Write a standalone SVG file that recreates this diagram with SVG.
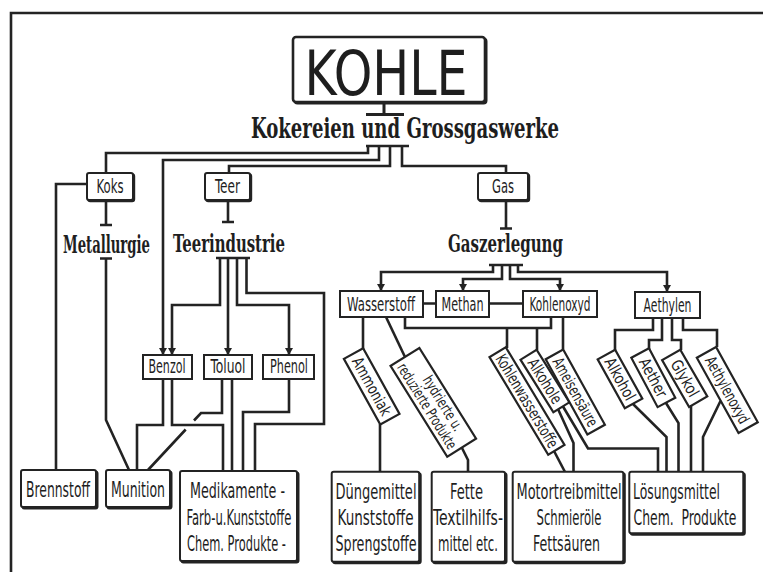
<svg xmlns="http://www.w3.org/2000/svg" width="763" height="572" viewBox="0 0 763 572">
<defs>
<style>
.ln{fill:none;stroke:#232323;stroke-width:2.6;stroke-linejoin:miter;stroke-linecap:butt}
.ar{marker-end:url(#arr)}
.bx{fill:#fff;stroke:#232323;stroke-width:2}
.bs{fill:#232323;stroke:#232323;stroke-width:2}
.rb{fill:#fff;stroke:#232323;stroke-width:2.2}
.t{font-family:"Liberation Sans Narrow","DejaVu Sans Condensed","Liberation Sans",sans-serif;font-stretch:condensed;font-size:19px;fill:#1e1e1e;text-anchor:middle}
.tb{font-size:21px}
.tr{font-size:16px}
.th{font-size:15px}
.fr{font-family:"DejaVu Serif","Liberation Serif",serif;font-weight:bold;font-stretch:condensed;fill:#1e1e1e;text-anchor:middle}
</style>
<marker id="arr" markerUnits="userSpaceOnUse" markerWidth="9" markerHeight="9" refX="7" refY="4" orient="auto"><path d="M0,0 L7,4 L0,8 z" fill="#232323"/></marker>
</defs>
<rect width="763" height="572" fill="#fff"/>
<path class="ln" d="M11,572 V13 H763"/>

<g id="connectors">
<path class="ln" d="M384,102 V114 M366,114.5 H404" style="stroke-width:3"/>
<path class="ln" d="M366,146 H409"/>
<path class="ln" d="M368,146 V153 H106 V173"/>
<path class="ln ar" d="M379,146 V160 H163 V355"/>
<path class="ln" d="M390,146 V166 H229 V173"/>
<path class="ln" d="M402,146 V166 H506 V173"/>
<path class="ln" d="M87,184 H56 V470"/>
<path class="ln" d="M106,200 V225 M100,225 H112"/>
<path class="ln" d="M100,258.5 H112 M106,258 V420 L129,470"/>
<path class="ln" d="M228,200 V222 M222,222 H234"/>
<path class="ln" d="M216,258 H250"/>
<path class="ln ar" d="M220,258 V305 H172 V355"/>
<path class="ln ar" d="M228,258 V355"/>
<path class="ln ar" d="M237,258 V305 H289 V355"/>
<path class="ln" d="M246.5,258 V293 H324 V424 H255 V471"/>
<path class="ln" d="M163,379 V425 H137 V470"/>
<path class="ln" d="M172,379 V425 H223 V471"/>
<path class="ln" d="M222,379 V413 H201 L194,420.5 M185.7,429.5 L148,470"/>
<path class="ln" d="M232,379 V471"/>
<path class="ln" d="M289,379 V412 H243 V471"/>
<path class="ln" d="M506,200 V228 M500,228.5 H512"/>
<path class="ln" d="M489,265 H523"/>
<path class="ln ar" d="M493,265 V272 H381 V291"/>
<path class="ln ar" d="M502,265 V279 H463 V291"/>
<path class="ln ar" d="M510,265 V279 H560 V291"/>
<path class="ln ar" d="M518,265 V272 H667 V292"/>
<path class="ln" d="M423,303.5 H436 M489,303.5 H523"/>
<path class="ln" d="M405,317 V328 H551 V317"/>
<path class="ln" d="M363,317 V349"/>
<path class="ln" d="M386,317 L405,357"/>
<path class="ln" d="M507,328 V348"/>
<path class="ln" d="M537,328 V350"/>
<path class="ln" d="M563,317 V349"/>
<path class="ln" d="M653,318 V330 H615 V350"/>
<path class="ln" d="M662,318 V340 H649 V349"/>
<path class="ln" d="M672,318 V340 H681 V350"/>
<path class="ln" d="M683,318 V330 H717 V347"/>
<path class="ln" d="M380,424 V472"/>
<path class="ln" d="M462,448 L468,460 V472"/>
<path class="ln" d="M554,451 L565,472"/>
<path class="ln" d="M558,409 L573.5,443 V472"/>
<path class="ln" d="M563,406.5 L588,448.5 H658 V472"/>
<path class="ln" d="M633,404 L666.5,437 V472"/>
<path class="ln" d="M666,403 L678.5,423 V472"/>
<path class="ln" d="M691,405 V472"/>
<path class="ln" d="M720.5,401 L703,437 V472"/>
</g>

<g id="kohle">
<rect class="bs" x="294.5" y="38.5" width="192" height="65" rx="3"/>
<rect class="bx" x="293" y="37" width="192" height="65" rx="3" style="stroke-width:2.6"/>
<text class="t" x="386" y="95" style="font-size:62px" textLength="163" lengthAdjust="spacingAndGlyphs">KOHLE</text>
</g>
<g id="kokereien">
<text class="fr" x="405" y="138" style="font-size:28px" textLength="308" lengthAdjust="spacingAndGlyphs">Kokereien und Grossgaswerke</text>
</g>

<g id="koks">
<rect class="bs" x="88.2" y="174.2" width="46" height="27" rx="2"/>
<rect class="bx" x="87" y="173" width="46" height="27" rx="2"/>
<text class="t" x="110" y="193" textLength="27" lengthAdjust="spacingAndGlyphs">Koks</text>
</g>
<g id="teer">
<rect class="bs" x="206.2" y="174.2" width="45" height="27" rx="2"/>
<rect class="bx" x="205" y="173" width="45" height="27" rx="2"/>
<text class="t" x="227.5" y="193" textLength="25" lengthAdjust="spacingAndGlyphs">Teer</text>
</g>
<g id="gas">
<rect class="bs" x="479.2" y="174.2" width="50" height="27" rx="2"/>
<rect class="bx" x="478" y="173" width="50" height="27" rx="2"/>
<text class="t" x="503" y="193" textLength="22" lengthAdjust="spacingAndGlyphs">Gas</text>
</g>

<g id="metallurgie"><text class="fr" x="106.5" y="253" style="font-size:24px" textLength="87" lengthAdjust="spacingAndGlyphs">Metallurgie</text></g>
<g id="teerindustrie"><text class="fr" x="229" y="252" style="font-size:24px" textLength="112" lengthAdjust="spacingAndGlyphs">Teerindustrie</text></g>
<g id="gaszerlegung"><text class="fr" x="505.5" y="252" style="font-size:24px" textLength="115" lengthAdjust="spacingAndGlyphs">Gaszerlegung</text></g>

<g id="benzol">
<rect class="bx" x="143" y="355" width="49" height="24"/>
<text class="t" x="167" y="373" textLength="37" lengthAdjust="spacingAndGlyphs">Benzol</text>
</g>
<g id="toluol">
<rect class="bx" x="204" y="355" width="48" height="24"/>
<text class="t" x="228" y="373" textLength="35" lengthAdjust="spacingAndGlyphs">Toluol</text>
</g>
<g id="phenol">
<rect class="bx" x="263" y="355" width="51" height="24"/>
<text class="t" x="289" y="373" textLength="38" lengthAdjust="spacingAndGlyphs">Phenol</text>
</g>

<g id="wasserstoff">
<rect class="bx" x="340" y="291" width="83" height="26"/>
<text class="t" x="381" y="311" textLength="68" lengthAdjust="spacingAndGlyphs">Wasserstoff</text>
</g>
<g id="methan">
<rect class="bx" x="436" y="291" width="53" height="26"/>
<text class="t" x="462.5" y="311" textLength="42" lengthAdjust="spacingAndGlyphs">Methan</text>
</g>
<g id="kohlenoxyd">
<rect class="bx" x="523" y="291" width="74" height="26"/>
<text class="t" x="560" y="311" textLength="61" lengthAdjust="spacingAndGlyphs">Kohlenoxyd</text>
</g>
<g id="aethylen">
<rect class="bx" x="635" y="292" width="65" height="26"/>
<text class="t" x="667.5" y="311.5" textLength="48" lengthAdjust="spacingAndGlyphs">Aethylen</text>
</g>

<g id="ammoniak" transform="translate(371.7,386.4) rotate(61)">
<rect class="rb" x="-37.5" y="-11" width="75" height="22"/>
<text class="t tr" x="0" y="5.5" textLength="64" lengthAdjust="spacingAndGlyphs">Ammoniak</text>
</g>
<g id="hydrierte" transform="translate(433.3,402.3) rotate(58)">
<rect class="rb" x="-53.5" y="-17" width="107" height="34"/>
<text class="t th" x="6" y="-2.5" textLength="62" lengthAdjust="spacingAndGlyphs">hydrierte u.</text>
<text class="t th" x="0" y="12.5" textLength="98" lengthAdjust="spacingAndGlyphs">reduzierte Produkte</text>
</g>
<g id="kohlenwasserstoffe" transform="translate(527,401) rotate(59)">
<rect class="rb" x="-57" y="-9.5" width="114" height="19"/>
<text class="t tr" x="0" y="5.5" textLength="106" lengthAdjust="spacingAndGlyphs">Kohlenwasserstoffe</text>
</g>
<g id="alkohole" transform="translate(545,381) rotate(58)">
<rect class="rb" x="-31" y="-9.5" width="62" height="19"/>
<text class="t tr" x="0" y="5.5" textLength="50" lengthAdjust="spacingAndGlyphs">Alkohole</text>
</g>
<g id="ameisensaeure" transform="translate(575.3,392) rotate(61)">
<rect class="rb" x="-43" y="-10" width="86" height="20"/>
<text class="t tr" x="0" y="5.5" textLength="76" lengthAdjust="spacingAndGlyphs">Ameisensäure</text>
</g>
<g id="alkohol" transform="translate(620,379) rotate(61)">
<rect class="rb" x="-28" y="-10" width="56" height="20"/>
<text class="t tr" x="0" y="5.5" textLength="46" lengthAdjust="spacingAndGlyphs">Alkohol</text>
</g>
<g id="aether" transform="translate(653.3,377.7) rotate(62)">
<rect class="rb" x="-28" y="-10" width="56" height="20"/>
<text class="t tr" x="0" y="5.5" textLength="42" lengthAdjust="spacingAndGlyphs">Aether</text>
</g>
<g id="glykol" transform="translate(684.7,378.3) rotate(60)">
<rect class="rb" x="-27" y="-10.5" width="54" height="21"/>
<text class="t tr" x="0" y="5.5" textLength="40" lengthAdjust="spacingAndGlyphs">Glykol</text>
</g>
<g id="aethylenoxyd" transform="translate(727.3,390) rotate(61)">
<rect class="rb" x="-43" y="-11" width="86" height="22"/>
<text class="t tr" x="0" y="5.5" textLength="74" lengthAdjust="spacingAndGlyphs">Aethylenoxyd</text>
</g>

<g id="brennstoff">
<rect class="bs" x="22.5" y="471.5" width="75" height="37" rx="2"/>
<rect class="bx" x="21" y="470" width="75" height="37" rx="2"/>
<text class="t tb" x="58" y="496.5" textLength="64" lengthAdjust="spacingAndGlyphs">Brennstoff</text>
</g>
<g id="munition">
<rect class="bs" x="107.5" y="471.5" width="64" height="37" rx="2"/>
<rect class="bx" x="106" y="470" width="64" height="37" rx="2"/>
<text class="t tb" x="138" y="496.5" textLength="54" lengthAdjust="spacingAndGlyphs">Munition</text>
</g>
<g id="medikamente">
<rect class="bs" x="181.5" y="472.5" width="117" height="90" rx="2"/>
<rect class="bx" x="180" y="471" width="117" height="90" rx="2"/>
<text class="t tb" x="237.5" y="498" textLength="95" lengthAdjust="spacingAndGlyphs">Medikamente -</text>
<text class="t tb" x="239" y="524.5" textLength="105" lengthAdjust="spacingAndGlyphs">Farb-u.Kunststoffe</text>
<text class="t tb" x="236.5" y="551" textLength="99" lengthAdjust="spacingAndGlyphs">Chem. Produkte -</text>
</g>
<g id="duengemittel">
<rect class="bs" x="333.2" y="473.2" width="87.5" height="90" rx="2"/>
<rect class="bx" x="331.7" y="471.7" width="87.5" height="90" rx="2"/>
<text class="t tb" x="376" y="499" textLength="81" lengthAdjust="spacingAndGlyphs">Düngemittel</text>
<text class="t tb" x="375.5" y="525" textLength="76" lengthAdjust="spacingAndGlyphs">Kunststoffe</text>
<text class="t tb" x="376" y="551" textLength="81" lengthAdjust="spacingAndGlyphs">Sprengstoffe</text>
</g>
<g id="fette">
<rect class="bs" x="433.2" y="473.2" width="73.3" height="90" rx="2"/>
<rect class="bx" x="431.7" y="471.7" width="73.3" height="90" rx="2"/>
<text class="t tb" x="466.5" y="499" textLength="33" lengthAdjust="spacingAndGlyphs">Fette</text>
<text class="t tb" x="468" y="525" textLength="70" lengthAdjust="spacingAndGlyphs">Textilhilfs-</text>
<text class="t tb" x="468" y="551" textLength="60" lengthAdjust="spacingAndGlyphs">mittel etc.</text>
</g>
<g id="motortreibmittel">
<rect class="bs" x="514.2" y="473.2" width="110.6" height="90" rx="2"/>
<rect class="bx" x="512.7" y="471.7" width="110.6" height="90" rx="2"/>
<text class="t tb" x="569" y="499" textLength="105" lengthAdjust="spacingAndGlyphs">Motortreibmittel</text>
<text class="t tb" x="569" y="525" textLength="65" lengthAdjust="spacingAndGlyphs">Schmieröle</text>
<text class="t tb" x="566.5" y="551" textLength="67" lengthAdjust="spacingAndGlyphs">Fettsäuren</text>
</g>
<g id="loesungsmittel">
<rect class="bs" x="630.8" y="473.2" width="114" height="61.6" rx="2"/>
<rect class="bx" x="629.3" y="471.7" width="114" height="61.6" rx="2"/>
<text class="t tb" x="676.5" y="499" textLength="87" lengthAdjust="spacingAndGlyphs">Lösungsmittel</text>
<text class="t tb" x="685" y="524.5" textLength="103" lengthAdjust="spacingAndGlyphs" xml:space="preserve">Chem.  Produkte</text>
</g>
</svg>
